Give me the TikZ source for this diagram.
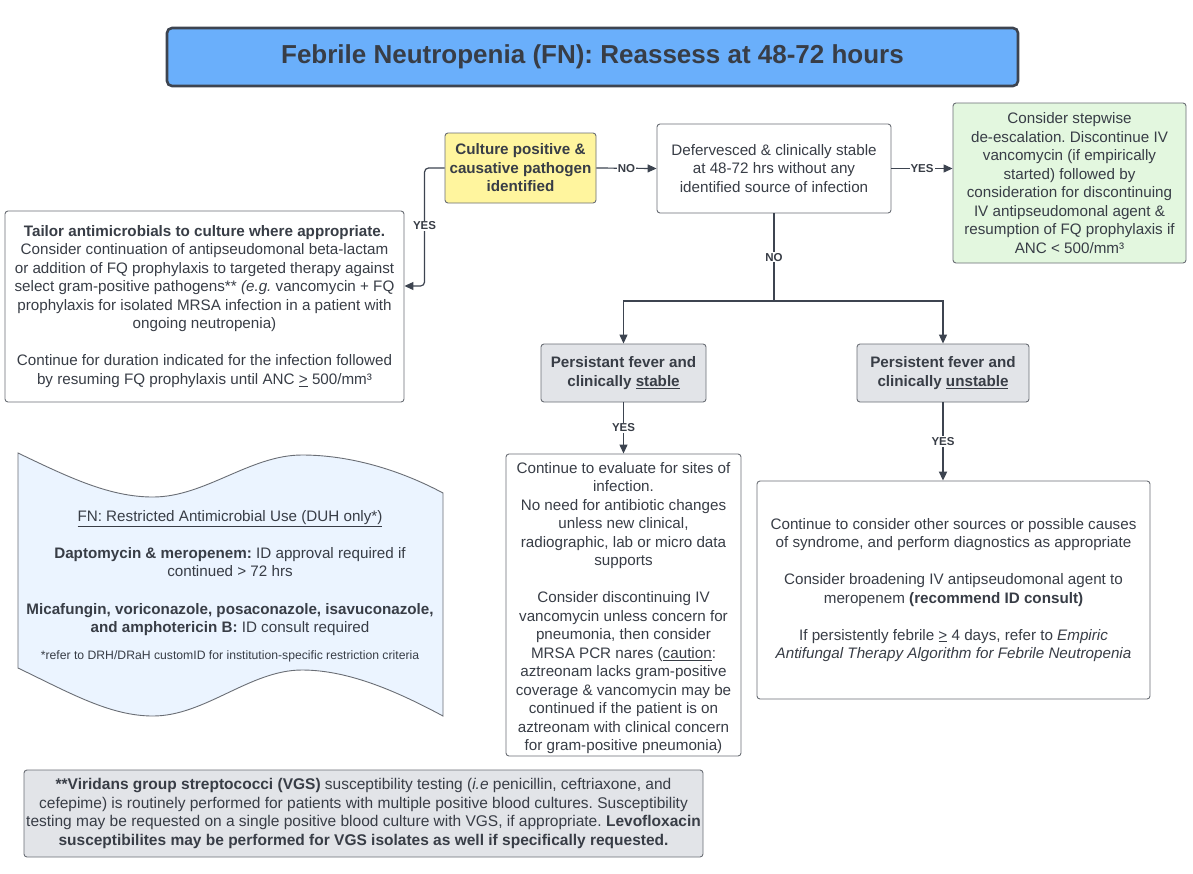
\documentclass[tikz,border=0pt]{standalone}
\usepackage{fontspec}
\setmainfont{Liberation Sans}
\usetikzlibrary{arrows.meta,calc}
\definecolor{txt}{HTML}{383D46}
\definecolor{bord}{HTML}{6A6E75}
\definecolor{lnc}{HTML}{3D4450}
\definecolor{titlefill}{HTML}{6AAFFB}
\definecolor{yel}{HTML}{FFF59E}
\definecolor{grn}{HTML}{E3F7DF}
\definecolor{gry}{HTML}{E2E4E8}
\definecolor{blu}{HTML}{EBF4FF}
\tikzset{
  box/.style={draw=bord, line width=0.9pt, rounded corners=3pt, fill=white, text=txt, align=center, inner sep=0pt, font=\fontsize{15.2}{18.5}\selectfont},
  conn/.style={draw=lnc, line width=1.2pt, -{Triangle[length=9pt,width=8pt]}},
  plain/.style={draw=lnc, line width=1.2pt},
  lbl/.style={fill=white, text=txt, font=\fontsize{11.5}{12}\selectfont\bfseries, inner sep=1pt}
}
\begin{document}
\frenchspacing
\begin{tikzpicture}[x=1pt,y=-1pt]
\useasboundingbox (0,0) rectangle (1193,873);
\fill[white] (0,0) rectangle (1193,873);

% title
\node[draw=lnc, line width=2.6pt, rounded corners=5pt, fill=titlefill, minimum width=851pt, minimum height=58pt, text=txt, font=\fontsize{26}{30}\selectfont\bfseries] (title) at (592.5,57) {Febrile Neutropenia (FN): Reassess at 48-72 hours};

% culture
\node[box, fill=yel, minimum width=151pt, minimum height=70pt, font=\fontsize{15.2}{18.5}\selectfont\bfseries] (cult) at (520.5,168) {Culture positive \&\\causative pathogen\\identified};

% defervesced
\node[box, minimum width=234pt, minimum height=89pt] (def) at (774,168.5) {Defervesced \& clinically stable\\at 48-72 hrs without any\\identified source of infection};

% green
\node[box, fill=grn, minimum width=233pt, minimum height=160pt] (green) at (1069.5,183) {Consider stepwise\\de-escalation. Discontinue IV\\vancomycin (if empirically\\started) followed by\\consideration for discontinuing\\IV antipseudomonal agent \&\\resumption of FQ prophylaxis if\\ANC < 500/mm³};

% tailor
\node[box, minimum width=399pt, minimum height=191pt] (tail) at (204.5,306.5) {\textbf{Tailor antimicrobials to culture where appropriate.}\\Consider continuation of antipseudomonal beta-lactam\\or addition of FQ prophylaxis to targeted therapy against\\select gram-positive pathogens** \textit{(e.g.} vancomycin + FQ\\prophylaxis for isolated MRSA infection in a patient with\\ongoing neutropenia)\\[18.5pt]Continue for duration indicated for the infection followed\\by resuming FQ prophylaxis until ANC \underline{>} 500/mm³};

% persistent boxes
\node[box, fill=gry, minimum width=165pt, minimum height=58pt, font=\fontsize{15.2}{18.5}\selectfont\bfseries] (stab) at (623.5,373) {Persistant fever and\\clinically \underline{stable}};
\node[box, fill=gry, minimum width=172pt, minimum height=58pt, font=\fontsize{15.2}{18.5}\selectfont\bfseries] (unst) at (943,373) {Persistent fever and\\clinically \underline{unstable}};

% evaluate
\node[box, minimum width=235pt, minimum height=302pt] (eval) at (623.5,605) {};
\node[text=txt, align=center, inner sep=0pt, font=\fontsize{15.2}{18.5}\selectfont] (evaltxt) at (623.5,608) {Continue to evaluate for sites of\\infection.\\No need for antibiotic changes\\unless new clinical,\\radiographic, lab or micro data\\supports\\[18.5pt]Consider discontinuing IV\\vancomycin unless concern for\\pneumonia, then consider\\MRSA PCR nares (\underline{caution}:\\aztreonam lacks gram-positive\\coverage \& vancomycin may be\\continued if the patient is on\\aztreonam with clinical concern\\for gram-positive pneumonia)};

% consider
\node[box, minimum width=393pt, minimum height=218pt] (cons) at (953.5,590) {Continue to consider other sources or possible causes\\of syndrome, and perform diagnostics as appropriate\\[18.5pt]Consider broadening IV antipseudomonal agent to\\meropenem \textbf{(recommend ID consult)}\\[18.5pt]If persistently febrile \underline{>} 4 days, refer to \textit{Empiric}\\\textit{Antifungal Therapy Algorithm for Febrile Neutropenia}};

% wavy restricted box
\draw[draw=bord, line width=0.9pt, fill=blu]
  (18,453) .. controls (70,478) and (110,497) .. (153,497)
  .. controls (205,497) and (250,455) .. (302,455)
  .. controls (350,455) and (400,470) .. (443,493)
  -- (443,716)
  .. controls (400,693) and (350,670) .. (302,670)
  .. controls (250,670) and (205,716) .. (153,716)
  .. controls (110,716) and (70,693) .. (18,668) -- cycle;
\node[text=txt, align=center, inner sep=0pt, font=\fontsize{15.2}{18.5}\selectfont] (restr) at (230,586) {\underline{FN: Restricted Antimicrobial Use (DUH only*)}\\[18pt]\textbf{Daptomycin \& meropenem:} ID approval required if\\continued > 72 hrs\\[19pt]\textbf{Micafungin, voriconazole, posaconazole, isavuconazole,}\\\textbf{and amphotericin B:} ID consult required\\[8pt]{\fontsize{12.2}{18}\selectfont *refer to DRH/DRaH customID for institution-specific restriction criteria}};

% bottom
\node[box, fill=gry, minimum width=679pt, minimum height=87pt, font=\fontsize{15.5}{18.5}\selectfont] (foot) at (363.5,813.5) {\textbf{**Viridans group streptococci (VGS)} susceptibility testing (\textit{i.e} penicillin, ceftriaxone, and\\cefepime) is routinely performed for patients with multiple positive blood cultures. Susceptibility\\testing may be requested on a single positive blood culture with VGS, if appropriate. \textbf{Levofloxacin}\\\textbf{susceptibilites may be performed for VGS isolates as well if specifically requested.}};

% connectors
\draw[conn, rounded corners=4pt] (cult.west) -- ++(-20,0) |- ([yshift=20.5pt]tail.east);
\path (cult.west) ++(-20,58) node[lbl] (yes1) {YES};
\draw[conn] (cult.east) -- node[lbl] (no1) {NO} (def.west);
\draw[conn] (def.east) -- node[lbl] (yes2) {YES} (def.east -| green.west);
\coordinate (split) at (def.south |- 0,301);
\draw[plain] (def.south) -- node[lbl] (no2) {NO} (split);
\draw[conn] (split) -| (stab.north);
\draw[conn] (split) -| (unst.north);
\draw[conn] (stab.south) -- node[lbl] (yes3) {YES} (eval.north);
\draw[conn, line width=2pt] (unst.south) -- node[lbl] (yes4) {YES} (unst.south |- cons.north);
\end{tikzpicture}
\end{document}
